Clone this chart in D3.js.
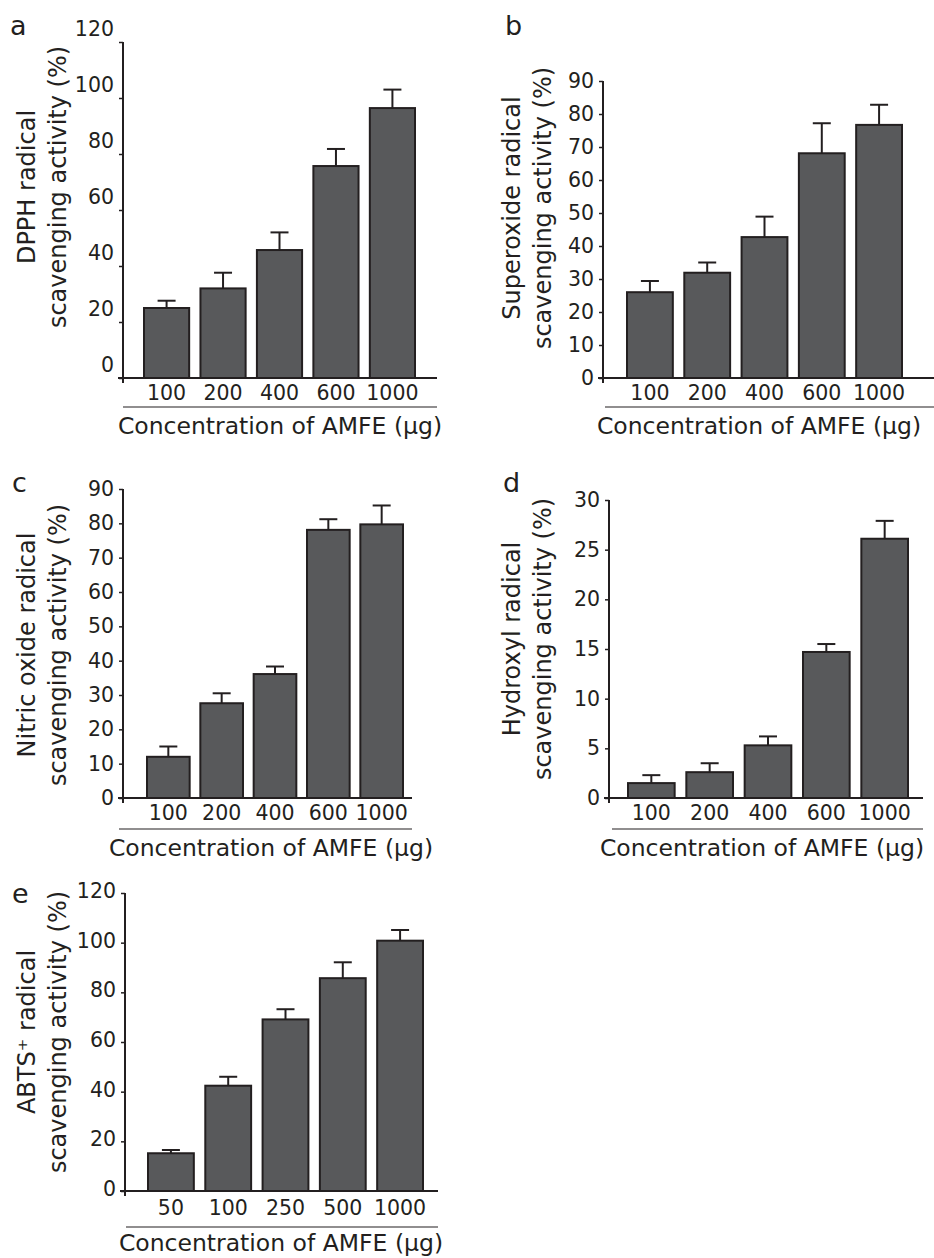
<!DOCTYPE html>
<html>
<head>
<meta charset="utf-8">
<script src="https://cdn.jsdelivr.net/npm/d3@7"></script>
<style>
  body { margin: 0; background: #fff; }
  svg { display: block; font-family: "DejaVu Sans", Verdana, sans-serif; }
</style>
</head>
<body>
<svg></svg>
<script>
const width = 934;
const height = 1258;

// concentrations (x categories)
const concMain = ["100", "200", "400", "600", "1000"];
const concAbts = ["50", "100", "250", "500", "1000"];

// mean scavenging activity (%) and upper error (SD)
const dpph = [25, 32, 45.7, 75.7, 96.4];
const dpphErr = [2.6, 5.6, 6.3, 6.1, 6.6];
const superoxide = [26, 31.9, 42.7, 68.1, 76.7];
const superoxideErr = [3.4, 3.1, 6.2, 9.1, 6.1];
const nitric = [12, 27.6, 36.1, 78.1, 79.7];
const nitricErr = [3.0, 2.9, 2.2, 3.1, 5.5];
const hydroxyl = [1.5, 2.6, 5.3, 14.7, 26.1];
const hydroxylErr = [0.8, 0.9, 0.9, 0.8, 1.8];
const abts = [15.2, 42.4, 69.1, 85.7, 100.8];
const abtsErr = [1.3, 3.6, 4.1, 6.4, 4.3];

// y tick labels
const ticks120 = [0, 20, 40, 60, 80, 100, 120];
const ticks90 = [0, 10, 20, 30, 40, 50, 60, 70, 80, 90];
const ticks30 = [0, 5, 10, 15, 20, 25, 30];

const xTitle = "Concentration of AMFE (\u00b5g)";

const panels = [
  { letter: "a", lx: 10, ly: 35, cats: concMain, vals: dpph, errs: dpphErr, ticks: ticks120, max: 120,
    ax: 123, top: 42, base: 378, right: 437, bars: [144, 415], uline: [123, 437], uy: 407, tly: 393, ty: 434, tx: 280,
    ylab: ["DPPH radical", "scavenging activity (%)"], ylx: 27, yly: 187, tickDy: -13 },
  { letter: "b", lx: 505, ly: 35, cats: concMain, vals: superoxide, errs: superoxideErr, ticks: ticks90, max: 90,
    ax: 603, top: 81, base: 378, right: 934, bars: [627, 902], uline: [605, 934], uy: 407, tly: 393, ty: 434, tx: 759,
    ylab: ["Superoxide radical", "scavenging activity (%)"], ylx: 512, yly: 208, tickDy: 0 },
  { letter: "c", lx: 12, ly: 492, cats: concMain, vals: nitric, errs: nitricErr, ticks: ticks90, max: 90,
    ax: 123, top: 489, base: 798, right: 412, bars: [147, 403], uline: [119, 412], uy: 829, tly: 813, ty: 856, tx: 271,
    ylab: ["Nitric oxide radical", "scavenging activity (%)"], ylx: 27, yly: 645, tickDy: 0 },
  { letter: "d", lx: 503, ly: 492, cats: concMain, vals: hydroxyl, errs: hydroxylErr, ticks: ticks30, max: 30,
    ax: 609, top: 500, base: 798, right: 923, bars: [628, 908], uline: [612, 923], uy: 829, tly: 813, ty: 856, tx: 762,
    ylab: ["Hydroxyl radical", "scavenging activity (%)"], ylx: 512, yly: 639, tickDy: 0 },
  { letter: "e", lx: 12, ly: 903, cats: concAbts, vals: abts, errs: abtsErr, ticks: ticks120, max: 120,
    ax: 125, top: 893, base: 1191, right: 438, bars: [148, 423], uline: [126, 438], uy: 1227, tly: 1208, ty: 1251, tx: 281,
    ylab: ["ABTS\u207a radical", "scavenging activity (%)"], ylx: 27, yly: 1032, tickDy: -2 }
];

const ink = "#231f20";
const barFill = "#58595b";

const svg = d3.select("svg")
    .attr("width", width)
    .attr("height", height);

panels.forEach(p => {
    const g = svg.append("g");

    const x = d3.scaleBand()
        .domain(p.cats)
        .range(p.bars)
        .paddingInner(0.2)
        .paddingOuter(0);

    const y = d3.scaleLinear()
        .domain([0, p.max])
        .range([p.base, p.top]);

    // bars
    g.selectAll(".bar")
        .data(p.vals)
        .enter()
        .append("rect")
        .attr("x", (d, i) => x(p.cats[i]))
        .attr("y", d => y(d))
        .attr("width", x.bandwidth())
        .attr("height", d => y(0) - y(d))
        .attr("fill", barFill)
        .attr("stroke", ink)
        .attr("stroke-width", 2);

    // error bars (upper only)
    const err = g.selectAll(".err")
        .data(p.vals)
        .enter()
        .append("g");
    err.append("line")
        .attr("x1", (d, i) => x(p.cats[i]) + x.bandwidth() / 2)
        .attr("x2", (d, i) => x(p.cats[i]) + x.bandwidth() / 2)
        .attr("y1", d => y(d))
        .attr("y2", (d, i) => y(d + p.errs[i]))
        .attr("stroke", ink)
        .attr("stroke-width", 2);
    err.append("line")
        .attr("x1", (d, i) => x(p.cats[i]) + x.bandwidth() / 2 - 9)
        .attr("x2", (d, i) => x(p.cats[i]) + x.bandwidth() / 2 + 9)
        .attr("y1", (d, i) => y(d + p.errs[i]))
        .attr("y2", (d, i) => y(d + p.errs[i]))
        .attr("stroke", ink)
        .attr("stroke-width", 2);

    // y axis
    const yAxis = g.append("g")
        .attr("transform", `translate(${p.ax},0)`)
        .call(d3.axisLeft(y).tickValues(p.ticks).tickSize(4).tickPadding(5).tickSizeOuter(0));
    yAxis.select(".domain").remove();
    yAxis.selectAll(".tick line").attr("stroke", ink).attr("stroke-width", 1.5);
    yAxis.selectAll(".tick text")
        .attr("fill", ink)
        .style("font-size", "20.5px")
        .style("font-family", "DejaVu Sans, sans-serif")
        .attr("dy", (0.32 * 20 + p.tickDy) + "px");

    g.append("line")
        .attr("x1", p.ax).attr("x2", p.ax)
        .attr("y1", p.top).attr("y2", p.base + 5)
        .attr("stroke", ink).attr("stroke-width", 2);

    // baseline
    g.append("line")
        .attr("x1", p.ax - 5).attr("x2", p.right)
        .attr("y1", p.base).attr("y2", p.base)
        .attr("stroke", ink).attr("stroke-width", 2);

    // x category labels
    g.selectAll(".xl")
        .data(p.cats)
        .enter()
        .append("text")
        .attr("x", d => x(d) + x.bandwidth() / 2)
        .attr("y", p.tly)
        .attr("dy", "0.35em")
        .attr("text-anchor", "middle")
        .attr("fill", ink)
        .style("font-size", "20.5px")
        .text(d => d);

    // underline + x title
    g.append("line")
        .attr("x1", p.uline[0]).attr("x2", p.uline[1])
        .attr("y1", p.uy).attr("y2", p.uy)
        .attr("stroke", ink).attr("stroke-width", 1.2);

    g.append("text")
        .attr("x", p.tx)
        .attr("y", p.ty)
        .attr("text-anchor", "middle")
        .attr("fill", ink)
        .style("font-size", "23.5px")
        .text(xTitle);

    // y title (two lines)
    p.ylab.forEach((t, i) => {
        g.append("text")
            .attr("transform", `translate(${p.ylx + i * 31},${p.yly}) rotate(-90)`)
            .attr("text-anchor", "middle")
            .attr("dy", "0.35em")
            .attr("fill", ink)
            .style("font-size", "24px")
            .text(t);
    });

    // panel letter
    g.append("text")
        .attr("x", p.lx)
        .attr("y", p.ly)
        .attr("fill", ink)
        .style("font-size", "27px")
        .text(p.letter);
});
</script>
</body>
</html>
